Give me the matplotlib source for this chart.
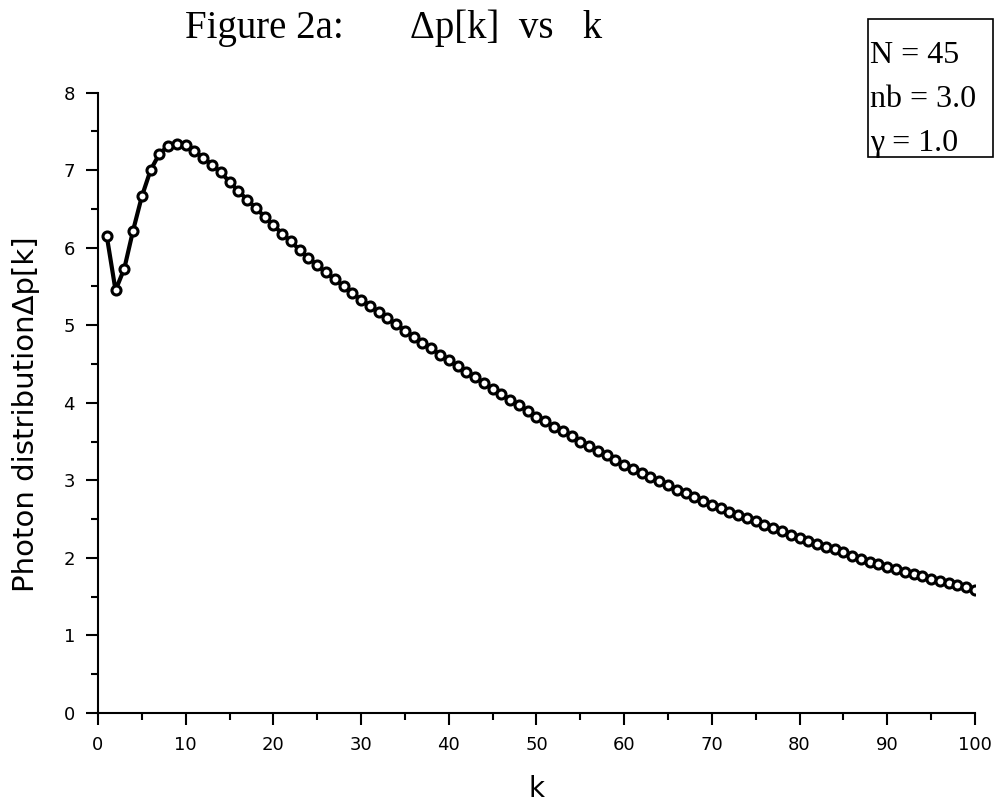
import numpy as np
import matplotlib
matplotlib.use("Agg")
import matplotlib.pyplot as plt
from matplotlib.patches import Rectangle
from matplotlib.ticker import MultipleLocator

# photon distribution, k = 1..100
k = np.arange(1, 101)
dp = [6.15, 5.45, 5.73, 6.22, 6.66, 7.00, 7.21, 7.31, 7.34, 7.32,
      7.24, 7.16, 7.07, 6.97, 6.85, 6.73, 6.62, 6.51, 6.40, 6.29,
      6.18, 6.08, 5.97, 5.87, 5.77, 5.68, 5.59, 5.50, 5.41, 5.33,
      5.25, 5.17, 5.09, 5.01, 4.93, 4.85, 4.77, 4.70, 4.62, 4.55,
      4.47, 4.40, 4.33, 4.25, 4.18, 4.11, 4.04, 3.97, 3.89, 3.82,
      3.76, 3.69, 3.63, 3.57, 3.50, 3.44, 3.38, 3.32, 3.26, 3.20,
      3.15, 3.09, 3.04, 2.99, 2.94, 2.88, 2.83, 2.78, 2.73, 2.68,
      2.64, 2.59, 2.55, 2.51, 2.47, 2.43, 2.39, 2.34, 2.30, 2.26,
      2.22, 2.18, 2.14, 2.11, 2.07, 2.03, 1.99, 1.95, 1.92, 1.88,
      1.85, 1.82, 1.79, 1.76, 1.73, 1.70, 1.68, 1.65, 1.62, 1.59]

params = ["N = 45", "nb = 3.0", "γ = 1.0"]

fig = plt.figure(figsize=(10.05, 8.08), dpi=100)
ax = fig.add_axes([0.0975, 0.1176, 0.8726, 0.7679])

ax.plot(k, dp, color="black", lw=3, marker="o", ms=6.5,
        mfc="white", mec="black", mew=2.2)

ax.set_xlim(0, 100)
ax.set_ylim(0, 8)
ax.xaxis.set_major_locator(MultipleLocator(10))
ax.xaxis.set_minor_locator(MultipleLocator(5))
ax.yaxis.set_major_locator(MultipleLocator(1))
ax.yaxis.set_minor_locator(MultipleLocator(0.5))

for s in ["top", "right"]:
    ax.spines[s].set_visible(False)
for s in ["left", "bottom"]:
    ax.spines[s].set_linewidth(1.5)
ax.tick_params(which="major", direction="out", length=8.6, width=1.5,
               labelsize=13, pad=8)
ax.tick_params(which="minor", direction="out", length=5, width=1.5)

ax.set_xlabel("k", fontsize=20)
ax.set_ylabel("Photon distributionΔp[k]", fontsize=21)
ax.xaxis.set_label_coords(0.5, -0.1)
ax.yaxis.set_label_coords(-0.066, 0.482)

fig.text(0.184, 0.9526, "Figure 2a:       Δp[k]  vs   k",
         family="Liberation Serif", fontsize=28, ha="left", va="baseline")

# parameter box, top right
fig.patches.append(Rectangle((868 / 1005, 1 - 157 / 808), 125 / 1005, 138 / 808,
                             transform=fig.transFigure, fill=False,
                             edgecolor="black", lw=1.2))
for i, t in enumerate(params):
    fig.text(870 / 1005, 1 - (63 + 44 * i) / 808, t,
             family="Liberation Serif", fontsize=23, ha="left", va="baseline")

fig.savefig("out.png", dpi=100)
